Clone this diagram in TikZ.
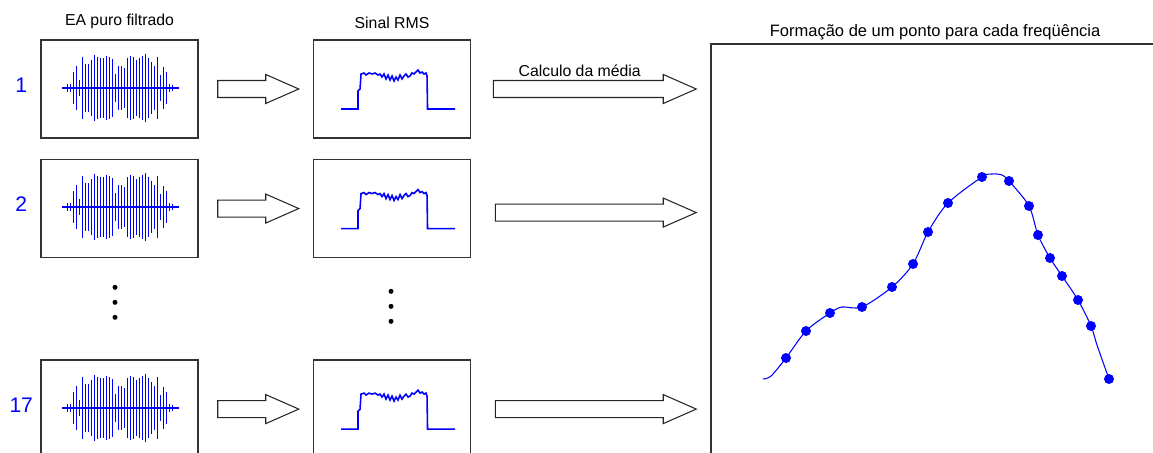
\documentclass[tikz,border=0pt]{standalone}
\usepackage{fontspec}
\setmainfont{Liberation Sans}
\usetikzlibrary{positioning,calc}

\newcommand{\eaburst}[1]{%
  \begin{scope}[shift={(#1)}]
    \draw[sig, line width=1.2pt] (-57.5,-1.3) -- (59.5,-1.3);
    \foreach \a [count=\i] in {4,4,16,22,8,31,24,24,28,33,31,30,30,32,31,29,14,22,22,20,30,32,31,28,30,32,34,30,26,22,31,13,21,16,4,3}
      \draw[sig] (-55+3*\i,-1.3-\a) -- (-55+3*\i,-1.3+\a);
  \end{scope}}

\newcommand{\rmstrace}[1]{%
  \draw[sig, line width=0.9pt, shift={(#1)}] (-51,20) -- (-34,20) -- (-34,2) -- (-32,0) -- (-31,-15)
    -- (-28,-16) -- (-26,-14) -- (-23,-16) -- (-20,-15) -- (-17,-16) -- (-14,-14) -- (-12,-15)
    -- (-10,-12) -- (-8,-15) -- (-6,-10) -- (-4,-14) -- (-2,-9) -- (0,-13) -- (2,-8) -- (4,-12)
    -- (6,-9) -- (8,-14) -- (10,-10) -- (12,-13) -- (14,-15) -- (16,-12) -- (18,-13) -- (20,-16)
    -- (22,-15) -- (24,-17) -- (26,-19) -- (28,-16) -- (30,-17) -- (32,-15) -- (34,-16) -- (35,-13)
    -- (35.5,20) -- (63,20);}

\begin{document}
\begin{tikzpicture}[
  x=0.02cm, y=-0.02cm,
  every node/.style={inner sep=0pt},
  sigbox/.style={draw=black!80, line width=0.9pt, minimum width=3.14cm, minimum height=1.96cm},
  plotbox/.style={draw=black!80, line width=1pt, minimum width=8.96cm, minimum height=8.52cm},
  lbl/.style={font=\fontsize{9}{11}\selectfont},
  num/.style={font=\fontsize{12}{14}\selectfont, text=blue},
  sig/.style={blue, line width=0.85pt},
  fat/.style={draw=black!85, fill=white, line width=0.6pt, to path={
    let \p1=(\tikztostart), \p2=(\tikztotarget) in
    (\x1+#1,\y1+0.17cm) -- (\x2-0.94cm,\y1+0.17cm) -- (\x2-0.94cm,\y1+0.29cm)
    -- (\x2-0.28cm,\y1) -- (\x2-0.94cm,\y1-0.29cm) -- (\x2-0.94cm,\y1-0.17cm)
    -- (\x1+#1,\y1-0.17cm) -- cycle}},
  fat/.default=0.38cm,
  ]
  \useasboundingbox (0,0) rectangle (1153,453);
  \clip (0,0) rectangle (1153,453);

  \node[sigbox] (w1) at (119.5,89) {};
  \node[sigbox, below=0.4cm of w1] (w2) {};
  \node[sigbox, below=2.02cm of w2] (w17) {};
  \node[sigbox, right=2.28cm of w1] (r1) {};
  \node[sigbox, right=2.28cm of w2] (r2) {};
  \node[sigbox, right=2.28cm of w17] (r17) {};
  \node[plotbox, below right=0.08cm and 4.78cm of r1.north east] (plot) {};

  \node[lbl, above=0.2cm of w1] (t1) {EA puro filtrado};
  \node[lbl, above=0.2cm of r1] (t2) {Sinal RMS};
  \node[lbl, font=\fontsize{9.4}{11}\selectfont, above=0.05cm of plot] (t3) {Formação de um ponto para cada freqüência};
  \node[lbl, above right=0.24cm and 0.94cm of r1.east] (t4) {Calculo da média};

  \node[num] (n1) at ([xshift=-0.38cm,yshift=0.08cm]w1.west) {1};
  \node[num] (n2) at ([xshift=-0.38cm,yshift=0.08cm]w2.west) {2};
  \node[num] (n17) at ([xshift=-0.38cm,yshift=0.08cm]w17.west) {17};

  \eaburst{w1}
  \eaburst{w2}
  \eaburst{w17}
  \rmstrace{r1}
  \rmstrace{r2}
  \rmstrace{r17}

  % vertical dots
  \foreach \k in {29,44,59}
    \fill ($(w2.south)+(-4.5,\k)$) circle (0.05cm);
  \foreach \k in {33,48,63}
    \fill ($(r2.south)+(-1,\k)$) circle (0.05cm);

  \draw[fat] (w1.east) to (r1.west);
  \draw[fat] (w2.east) to (r2.west);
  \draw[fat] (w17.east) to (r17.west);
  \draw[fat=0.44cm] (r1.east) to (plot.west);
  \draw[fat=0.48cm] ([yshift=-0.08cm]r2.east) to (plot.west);
  \draw[fat=0.48cm] (r17.east) to (plot.west);

  % one point per frequency
  \draw[blue, line width=0.6pt] plot[smooth, tension=0.5] coordinates {(763,379) (771,376) (786,358) (806,331)
    (830,313) (842,307) (862,307) (892,287) (913,264) (928,232) (948,203) (982,177) (992,174) (1002,175)
    (1009,181) (1029,206) (1038,235) (1050,258) (1062,276) (1078,300) (1091,326) (1097,345) (1109,379)};
  \foreach \p in {(786,358),(806,331),(830,313),(862,307),(892,287),(913,264),(928,232),(948,203),(982,177),
    (1009,181),(1029,206),(1038,235),(1050,258),(1062,276),(1078,300),(1091,326),(1109,379)}
    \fill[blue] \p circle (0.1cm);
\end{tikzpicture}
\end{document}
